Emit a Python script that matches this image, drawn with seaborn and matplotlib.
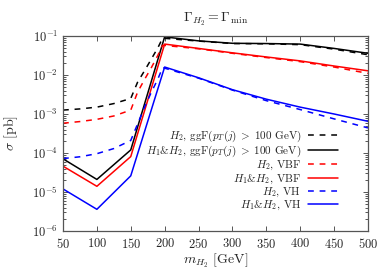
import numpy as np
import pandas as pd
import matplotlib
matplotlib.use("Agg")
import matplotlib.pyplot as plt
import seaborn as sns

# solid curves (H1&H2), sampled at these masses
mass_solid = [50, 100, 150, 200, 250, 300, 350, 400, 450, 500]
ggf_solid = [7.1e-5, 2.1e-5, 1.2e-4, 0.095, 0.075, 0.065, 0.064, 0.062, 0.048, 0.036]
vbf_solid = [4.6e-5, 1.4e-5, 8.1e-5, 0.062, 0.048, 0.037, 0.029, 0.023, 0.017, 0.0128]
vh_solid = [1.2e-5, 3.6e-6, 2.6e-5, 0.016, 0.0085, 0.0042, 0.0024, 0.0015, 0.0010, 6.5e-4]

# dashed curves (H2 only)
mass_dash = [50, 75, 100, 125, 150, 160, 170, 180, 190, 197, 250, 300, 350, 400, 450, 500]
ggf_dash = [1.26e-3, 1.35e-3, 1.5e-3, 1.85e-3, 2.5e-3, 6.5e-3, 0.0126, 0.025, 0.05, 0.088,
            0.074, 0.064, 0.063, 0.060, 0.046, 0.033]
vbf_dash = [5.8e-4, 6.4e-4, 7.3e-4, 8.9e-4, 1.26e-3, 3.6e-3, 7.5e-3, 0.015, 0.032, 0.058,
            0.047, 0.036, 0.028, 0.022, 0.016, 0.011]
vh_dash = [7.2e-5, 8.0e-5, 9.6e-5, 1.3e-4, 2.1e-4, 5.5e-4, 1.45e-3, 3.5e-3, 7.9e-3, 0.0155,
           0.0083, 0.0041, 0.0022, 0.0013, 7.5e-4, 4.4e-4]

x_ticks = [50, 100, 150, 200, 250, 300, 350, 400, 450, 500]

sns.set_style("ticks")
plt.rcParams["mathtext.fontset"] = "cm"
plt.rcParams["font.family"] = ["serif"]
plt.rcParams["font.serif"] = ["cmr10", "DejaVu Serif"]
plt.rcParams["axes.formatter.use_mathtext"] = True

fig = plt.figure(figsize=(3.9, 2.7), dpi=100)
ax = fig.add_axes([0.1615, 0.1444, 0.782, 0.7223])

series = [
    (mass_dash, ggf_dash, "black", "--", r"$H_2$, ggF$(p_T(j)\;>\;100$ GeV$)$"),
    (mass_solid, ggf_solid, "black", "-", r"$H_1$&$H_2$, ggF$(p_T(j)\;>\;100$ GeV$)$"),
    (mass_dash, vbf_dash, "red", "--", r"$H_2$, VBF"),
    (mass_solid, vbf_solid, "red", "-", r"$H_1$&$H_2$, VBF"),
    (mass_dash, vh_dash, "blue", "--", r"$H_2$, VH"),
    (mass_solid, vh_solid, "blue", "-", r"$H_1$&$H_2$, VH"),
]

for xs, ys, col, ls, lab in series:
    df = pd.DataFrame({"m": xs, "sigma": ys})
    line = sns.lineplot(data=df, x="m", y="sigma", ax=ax, color=col, label=lab,
                        linewidth=1.1)
    line.lines[-1].set_linestyle(ls)
    if ls == "--":
        line.lines[-1].set_dashes([3.8, 3.8])

ax.set_yscale("log")
ax.set_xlim(50, 500)
ax.set_ylim(1e-6, 1e-1)
ax.set_xticks(x_ticks)
ax.tick_params(which="both", direction="in", top=True, right=True, labelsize=9,
               width=0.7, color="#555555")
ax.tick_params(which="major", length=3.5)
ax.tick_params(which="minor", length=2)
ax.tick_params(axis="x", pad=4)
for sp in ax.spines.values():
    sp.set_color("#555555")
    sp.set_linewidth(0.9)

ax.set_xlabel(r"$m_{H_2}$ [GeV]", fontsize=10, labelpad=1)
ax.set_ylabel(r"$\sigma$ [pb]", fontsize=10, labelpad=9)
ax.text(0.5, 1.072, r"$\Gamma_{H_2} = \Gamma_{\rm min}$", fontsize=10,
        ha="center", va="baseline", transform=ax.transAxes)

ax.legend(loc="upper right", bbox_to_anchor=(0.902, 0.526), frameon=False,
          markerfirst=False, fontsize=8, handlelength=2.7, labelspacing=0.0,
          handletextpad=0.6, borderaxespad=0, borderpad=0)

fig.savefig("out.png", dpi=100)
